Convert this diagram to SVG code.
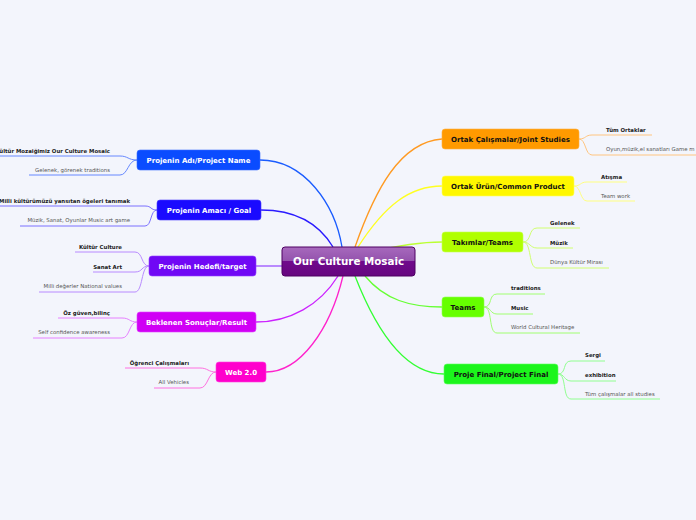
<svg xmlns="http://www.w3.org/2000/svg" width="696" height="520" viewBox="0 0 696 520">
<defs>
<linearGradient id="cg" x1="0" y1="0" x2="0" y2="1">
<stop offset="0" stop-color="#a769bd"/>
<stop offset="0.5" stop-color="#9352ac"/>
<stop offset="0.5" stop-color="#700a8c"/>
<stop offset="1" stop-color="#66067f"/>
</linearGradient>
</defs>
<style>
.bg{fill:#f3f5fc}
.c{fill:none;stroke-width:1.3}
.l{fill:none;stroke-width:1}
.nt{font-family:"DejaVu Sans",Verdana,sans-serif;font-weight:bold;font-size:7px;text-anchor:middle}
.w{fill:#ffffff}
.k{fill:#111111}
.lb{font-family:"DejaVu Sans",Verdana,sans-serif;font-weight:bold;font-size:5.4px;fill:#222222}
.ln{font-family:"DejaVu Sans",Verdana,sans-serif;font-size:5.4px;fill:#555555}
.e{text-anchor:end}
</style>
<rect class="bg" x="0" y="0" width="696" height="520"/>
<g id="connectors">
<path class="c" stroke="#1a5cff" d="M342,247 C335,205 305,160 260,160"/>
<path class="c" stroke="#2a1aff" d="M333,247 C318,222 295,210 261,210"/>
<path class="c" stroke="#9a50ff" d="M282,266 H256"/>
<path class="c" stroke="#cc22ff" d="M338,276 C320,305 290,322 256,322"/>
<path class="c" stroke="#ff22cc" d="M343,276 C330,330 300,372 266,372"/>
<path class="c" stroke="#ff9a22" d="M355,247 C375,190 400,142 442,139"/>
<path class="c" stroke="#ffff22" d="M358,247 C385,205 410,186 442,186"/>
<path class="c" stroke="#bbff33" d="M370,252 C400,245 420,242 442,242"/>
<path class="c" stroke="#66ff33" d="M365,276 C385,300 410,307 442,307"/>
<path class="c" stroke="#33ff33" d="M355,276 C380,340 410,374 444,374"/>
<g stroke="#6688ff">
<path class="l" d="M0,156 H120 C128,156 128,160 137,160"/>
<path class="l" d="M29,175 H120 C128,175 128,160 137,160"/>
</g>
<g stroke="#7a70ff">
<path class="l" d="M0,206 H145 C152,206 150,210 157,210"/>
<path class="l" d="M20,226 H145 C152,226 150,210 157,210"/>
</g>
<g stroke="#b88aff">
<path class="l" d="M75,252 H135 C143,252 141,266 149,266"/>
<path class="l" d="M93,272 H135 C143,272 141,266 149,266"/>
<path class="l" d="M39,292 H135 C143,292 141,266 149,266"/>
</g>
<g stroke="#e680ff">
<path class="l" d="M58,318 H122 C130,318 129,322 137,322"/>
<path class="l" d="M33,338 H122 C130,338 129,322 137,322"/>
</g>
<g stroke="#ff70e0">
<path class="l" d="M125,368 H200 C208,368 208,372 216,372"/>
<path class="l" d="M154,388 H200 C208,388 208,372 216,372"/>
</g>
<g stroke="#ffc580">
<path class="l" d="M579,139 C586,139 585,135 592,135 H652"/>
<path class="l" d="M579,139 C586,139 585,155 592,155 H696"/>
</g>
<g stroke="#ffff80">
<path class="l" d="M574,186 C581,186 580,182 587,182 H627"/>
<path class="l" d="M574,186 C581,186 580,201 587,201 H635"/>
</g>
<g stroke="#d0ff70">
<path class="l" d="M523,242 C532,242 528,228 537,228 H580"/>
<path class="l" d="M523,242 C530,242 530,248 537,248 H573"/>
<path class="l" d="M523,242 C532,242 528,268 537,268 H609"/>
</g>
<g stroke="#a0ff70">
<path class="l" d="M484,307 C493,307 488,294 497,294 H545"/>
<path class="l" d="M484,307 C491,307 490,314 497,314 H533"/>
<path class="l" d="M484,307 C493,307 488,333 497,333 H580"/>
</g>
<g stroke="#90ff90">
<path class="l" d="M558,374 C567,374 562,361 571,361 H605"/>
<path class="l" d="M558,374 C565,374 564,381 571,381 H616"/>
<path class="l" d="M558,374 C567,374 562,399 571,399 H660"/>
</g>
</g>
<g id="center">
<rect x="282" y="247" width="133" height="29" rx="3" fill="url(#cg)" stroke="#4e0063" stroke-width="1"/>
<text class="nt w" x="348.5" y="265" style="font-size:10.3px">Our Culture Mosaic</text>
</g>
<g id="n-name">
<rect x="137" y="150" width="123" height="20" rx="3" fill="#0a4cff" stroke="#3a6cff" stroke-width="0.6"/>
<text class="nt w" x="198.5" y="162.5">Projenin Adı/Project Name</text>
<text class="lb e" x="110" y="152.5">Kültür Mozaiğimiz Our Culture Mosaic</text>
<text class="ln e" x="110" y="172">Gelenek, görenek traditions</text>
</g>
<g id="n-goal">
<rect x="157" y="200" width="104" height="20" rx="3" fill="#1a0aff" stroke="#4a3aff" stroke-width="0.6"/>
<text class="nt w" x="209" y="212.5">Projenin Amacı / Goal</text>
<text class="lb e" x="130" y="202.5">Milli kültürümüzü yansıtan ögeleri tanımak</text>
<text class="ln e" x="130" y="222">Müzik, Sanat, Oyunlar Music art game</text>
</g>
<g id="n-target">
<rect x="149" y="256" width="107" height="20" rx="3" fill="#7008f5" stroke="#9040ff" stroke-width="0.6"/>
<text class="nt w" x="202.5" y="268.5">Projenin Hedefi/target</text>
<text class="lb e" x="122" y="248.5">Kültür Culture</text>
<text class="lb e" x="122" y="268.5">Sanat Art</text>
<text class="ln e" x="122" y="288">Milli değerler National values</text>
</g>
<g id="n-result">
<rect x="137" y="312" width="119" height="20" rx="3" fill="#d000f5" stroke="#e040ff" stroke-width="0.6"/>
<text class="nt w" x="196.5" y="324.5">Beklenen Sonuçlar/Result</text>
<text class="lb e" x="110" y="314.5">Öz güven,bilinç</text>
<text class="ln e" x="110" y="334">Self confidence awareness</text>
</g>
<g id="n-web">
<rect x="216" y="362" width="50" height="20" rx="3" fill="#ff00cc" stroke="#ff40dd" stroke-width="0.6"/>
<text class="nt w" x="241" y="374.5">Web 2.0</text>
<text class="lb e" x="189" y="364.5">Öğrenci Çalışmaları</text>
<text class="ln e" x="189" y="384">All Vehicles</text>
</g>
<g id="n-joint">
<rect x="442" y="129" width="137" height="20" rx="3" fill="#ff9a00" stroke="#ffb040" stroke-width="0.6"/>
<text class="nt k" x="510.5" y="141.5">Ortak Çalışmalar/Joint Studies</text>
<text class="lb" x="606" y="131.5">Tüm Ortaklar</text>
<text class="ln" x="606" y="150.5">Oyun,müzik,el sanatları Game m</text>
</g>
<g id="n-common">
<rect x="442" y="176" width="132" height="20" rx="3" fill="#fff700" stroke="#ffff60" stroke-width="0.6"/>
<text class="nt k" x="508" y="188.5">Ortak Ürün/Common Product</text>
<text class="lb" x="601" y="178.5">Atışma</text>
<text class="ln" x="601" y="197.5">Team work</text>
</g>
<g id="n-takim">
<rect x="442" y="232" width="81" height="20" rx="3" fill="#b0ff00" stroke="#c8ff50" stroke-width="0.6"/>
<text class="nt k" x="482.5" y="244.5">Takımlar/Teams</text>
<text class="lb" x="550" y="224.5">Gelenek</text>
<text class="lb" x="550" y="244.5">Müzik</text>
<text class="ln" x="550" y="264">Dünya Kültür Mirası</text>
</g>
<g id="n-teams">
<rect x="442" y="297" width="42" height="20" rx="3" fill="#66ff00" stroke="#90ff50" stroke-width="0.6"/>
<text class="nt k" x="463" y="309.5">Teams</text>
<text class="lb" x="511" y="289.5">traditions</text>
<text class="lb" x="511" y="309.5">Music</text>
<text class="ln" x="511" y="329">World Cultural Heritage</text>
</g>
<g id="n-final">
<rect x="444" y="364" width="114" height="20" rx="3" fill="#1cf51c" stroke="#60ff60" stroke-width="0.6"/>
<text class="nt k" x="501" y="376.5">Proje Final/Project Final</text>
<text class="lb" x="585" y="356.5">Sergi</text>
<text class="lb" x="585" y="376.5">exhibition</text>
<text class="ln" x="585" y="395.5">Tüm çalışmalar all studies</text>
</g>
</svg>
